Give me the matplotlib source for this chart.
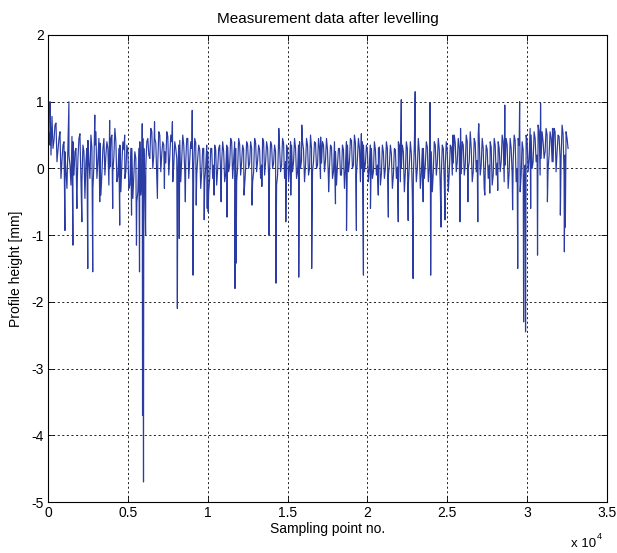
import matplotlib
matplotlib.use("Agg")
import matplotlib.pyplot as plt

# ---------------- data ----------------
base_step = 125  # sampling points between baseline readings
baseline = [
    0.62, 0.35, 0.78, 0.42, 0.68, 0.28, 0.55, 0.12, 0.40, -0.05,
    0.35, 0.05, 0.48, -0.10, 0.30, 0.15, 0.52, -0.20, 0.25, 0.10,
    0.42, -0.15, 0.30, 0.05, 0.55, 0.12, 0.38, -0.08, 0.45, 0.20,
    0.30, 0.02, 0.50, 0.18, 0.40, -0.12, 0.35, 0.08, 0.28, -0.05,
    0.25, -0.25, 0.30, -0.10, 0.15, -0.35, 0.40, -0.20, 0.30, 0.05,
    0.45, 0.15, 0.55, 0.20, 0.38, 0.10, 0.50, 0.22, 0.35, 0.08,
    0.48, 0.18, 0.40, 0.05, 0.30, -0.10, 0.42, 0.15, 0.35, 0.10,
    0.45, 0.12, 0.30, 0.05, 0.38, 0.15, 0.28, -0.05, 0.30, 0.02,
    0.25, -0.15, 0.30, 0.05, 0.28, 0.00, 0.35, 0.10, 0.25, -0.08,
    0.32, 0.05, 0.40, 0.12, 0.30, 0.02, 0.36, 0.10, 0.28, 0.00,
    0.35, 0.08, 0.30, -0.05, 0.38, 0.12, 0.28, 0.05, 0.40, 0.10,
    0.30, 0.00, 0.35, 0.08, 0.25, -0.10, 0.32, 0.05, 0.38, 0.10,
    0.28, 0.02, 0.35, 0.10, 0.30, -0.05, 0.40, 0.12, 0.28, 0.05,
    0.35, 0.00, 0.30, 0.10, 0.38, 0.05, 0.30, 0.08, 0.35, 0.12,
    0.28, 0.02, 0.32, -0.05, 0.25, 0.05, 0.30, -0.10, 0.28, 0.00,
    0.35, 0.10, 0.40, 0.05, 0.38, 0.15, 0.30, 0.00, 0.35, 0.08,
    0.25, 0.02, 0.30, -0.05, 0.28, 0.05, 0.32, -0.08, 0.25, 0.00,
    0.30, 0.05, 0.22, -0.10, 0.28, 0.02, 0.35, 0.00, 0.25, -0.05,
    0.30, 0.05, 0.22, -0.12, 0.28, 0.00, 0.25, -0.08, 0.30, 0.05,
    0.32, 0.02, 0.25, -0.05, 0.35, 0.08, 0.28, -0.10, 0.30, 0.05,
    0.25, -0.05, 0.32, 0.08, 0.38, 0.10, 0.30, -0.08, 0.35, 0.05,
    0.40, 0.10, 0.30, -0.05, 0.38, 0.12, 0.45, 0.05, 0.30, -0.05,
    0.28, 0.05, 0.32, -0.10, 0.35, 0.08, 0.30, 0.10, 0.40, 0.05,
    0.35, -0.05, 0.30, 0.10, 0.42, 0.00, 0.35, -0.10, 0.28, 0.05,
    0.40, 0.15, 0.50, 0.10, 0.45, 0.20, 0.55, 0.15, 0.40, 0.25,
    0.50, 0.20, 0.45, 0.10, 0.55, 0.25, 0.48, 0.15, 0.52, 0.20, 0.45,
]
# readings between the baseline readings (offset by half a step)
baseline_mid = [
    0.50, 0.20, 0.30, 0.65, 0.10, 0.45, -0.15, 0.35, 0.25, -0.30,
    0.20, -0.25, 0.40, 0.25, -0.35, 0.45, -0.20, 0.35, -0.45, 0.30,
    0.10, 0.50, -0.30, 0.35, -0.15, 0.45, -0.40, 0.30, -0.10, 0.40,
    -0.25, 0.45, -0.05, 0.60, -0.20, 0.30, -0.35, 0.40, -0.15, 0.35,
    -0.30, 0.30, -0.45, 0.25, -0.50, 0.30, -0.40, 0.45, -0.25, 0.40,
    0.20, 0.60, 0.00, 0.45, -0.15, 0.55, -0.05, 0.40, 0.25, 0.55,
    -0.10, 0.50, -0.20, 0.40, 0.15, 0.35, -0.20, 0.50, -0.05, 0.45,
    -0.15, 0.40, -0.25, 0.45, -0.10, 0.35, -0.30, 0.30, -0.20, 0.35,
    -0.35, 0.30, -0.15, 0.35, -0.25, 0.30, -0.10, 0.40, -0.20, 0.35,
    -0.05, 0.45, -0.15, 0.40, -0.20, 0.45, -0.10, 0.35, -0.25, 0.40,
    0.00, 0.40, -0.20, 0.45, -0.05, 0.35, -0.15, 0.45, -0.10, 0.40,
    -0.10, 0.40, 0.00, 0.35, -0.25, 0.40, -0.05, 0.45, -0.15, 0.35,
    -0.20, 0.40, -0.05, 0.45, -0.15, 0.35, 0.00, 0.40, -0.20, 0.45,
    -0.10, 0.50, -0.05, 0.40, 0.00, 0.45, -0.15, 0.40, -0.05, 0.45,
    -0.20, 0.35, -0.15, 0.40, -0.25, 0.30, -0.10, 0.35, -0.30, 0.40,
    -0.05, 0.45, 0.00, 0.50, -0.10, 0.45, -0.20, 0.40, -0.05, 0.35,
    -0.20, 0.35, -0.15, 0.40, -0.10, 0.30, -0.25, 0.35, -0.15, 0.40,
    -0.10, 0.35, -0.30, 0.30, -0.15, 0.40, -0.20, 0.35, -0.35, 0.40,
    -0.25, 0.40, -0.40, 0.35, -0.20, 0.45, -0.30, 0.30, -0.15, 0.40,
    -0.20, 0.35, -0.35, 0.40, -0.10, 0.45, -0.30, 0.35, -0.20, 0.40,
    -0.35, 0.35, -0.10, 0.50, -0.05, 0.45, -0.25, 0.40, -0.10, 0.50,
    0.00, 0.55, -0.20, 0.45, -0.05, 0.50, -0.10, 0.45, -0.30, 0.35,
    -0.15, 0.40, -0.25, 0.45, -0.10, 0.40, -0.05, 0.50, -0.20, 0.45,
    -0.30, 0.45, -0.10, 0.50, -0.20, 0.45, -0.35, 0.40, -0.15, 0.50,
    -0.05, 0.60, 0.00, 0.55, 0.10, 0.65, -0.10, 0.55, 0.15, 0.60,
    0.00, 0.55, 0.10, 0.60, -0.05, 0.50, 0.15, 0.65, -0.10, 0.55, 0.30,
]

spike_x = [125, 1060, 1310, 1560, 1810, 2120, 2490, 2800, 2930, 3240,
           3860, 4050, 4490, 4800, 5230, 5540, 5730, 5900, 5920, 5980,
           6110, 6670, 6850, 7290, 7790, 8100, 8220, 8600, 9030, 9080,
           9280, 9780, 9970, 10030, 10400, 10840, 11210, 11710, 11780, 12270,
           12770, 13390, 13830, 14270, 14450, 14890, 15200, 15700, 15890, 16510,
           17070, 17570, 18000, 18690, 19000, 19310, 19620, 19750, 20190, 20680,
           21310, 21930, 22120, 22550, 22860, 22990, 23490, 23920, 23960, 24610,
           24860, 25360, 25790, 25830, 26290, 26910, 26970, 27350, 27660, 28160,
           28600, 29090, 29410, 29530, 29780, 29900, 30220, 30650, 30840, 31270,
           31590, 32080, 32330, 32390]
spike_y = [1.00, -0.93, 1.00, -1.15, -0.60, -0.80, -1.50, -1.55, 0.80, -0.50,
           0.72, -0.60, -0.85, 0.50, -0.70, -1.15, -1.55, 0.67, -3.70, -4.70,
           -1.00, 0.70, -0.45, -0.30, 0.70, -2.10, -1.05, -0.50, 0.87, -1.60,
           -0.55, -0.77, -0.60, -0.65, -0.40, -0.50, -0.73, -1.80, -1.42, -0.40,
           -0.55, -0.27, -1.00, -1.72, 0.60, -0.80, -0.40, -1.63, 0.65, -1.50,
           0.47, -0.35, -0.53, -0.93, 0.42, -0.93, 0.52, -1.60, -0.60, -0.40,
           -0.73, -0.80, 1.03, -0.78, -1.65, 1.15, -0.50, 0.98, -1.60, -0.88,
           -0.77, 0.50, -0.80, 0.60, -0.50, -0.80, 0.67, -0.40, -0.37, -0.33,
           0.95, -0.62, -1.50, 1.00, -2.30, -2.45, -0.60, -1.30, 0.98, -0.50,
           0.60, -0.70, -1.25, -0.88]

xtick_vals = [0, 5000, 10000, 15000, 20000, 25000, 30000, 35000]
xtick_labels = ["0", "0.5", "1", "1.5", "2", "2.5", "3", "3.5"]
ytick_vals = [-5, -4, -3, -2, -1, 0, 1, 2]

# ---------------- assemble series ----------------
bx = [i * base_step for i in range(len(baseline))]
mx = [i * base_step + base_step // 2 for i in range(len(baseline_mid))]
pts = sorted(list(zip(bx, baseline)) + list(zip(mx, baseline_mid))
             + list(zip(spike_x, spike_y)))
xs = [p[0] for p in pts]
ys = [p[1] for p in pts]

plt.rcParams['font.family'] = ['Liberation Sans', 'DejaVu Sans']
plt.rcParams['axes.unicode_minus'] = False

fig = plt.figure(figsize=(6.17, 5.53), dpi=100)
ax = fig.add_axes([48 / 617, 1 - 502 / 553, (607 - 48) / 617, (502 - 35) / 553])

ax.plot(xs, ys, color='#2a3ca2', lw=0.85)

ax.set_xlim(0, 35000)
ax.set_ylim(-5, 2)
ax.set_xticks(xtick_vals)
ax.set_xticklabels(xtick_labels)
ax.set_yticks(ytick_vals)
ax.tick_params(direction='in', length=4, width=0.6, labelsize=10,
               top=True, right=True, pad=3)
for s in ax.spines.values():
    s.set_linewidth(0.8)
ax.grid(True, color='black', linestyle=(0, (2.5, 3)), linewidth=0.6)

ax.set_title("Measurement data after levelling", fontsize=11, pad=9)
ax.set_xlabel("Sampling point no.", fontsize=10, labelpad=1)
ax.set_ylabel("Profile height [mm]", fontsize=10, labelpad=6)

fig.text(571 / 617, 1 - 547 / 553, "x 10", fontsize=9.5, ha='left', va='baseline')
fig.text(597 / 617, 1 - 539 / 553, "4", fontsize=6.5, ha='left', va='baseline')

fig.savefig("out.png", dpi=100)
